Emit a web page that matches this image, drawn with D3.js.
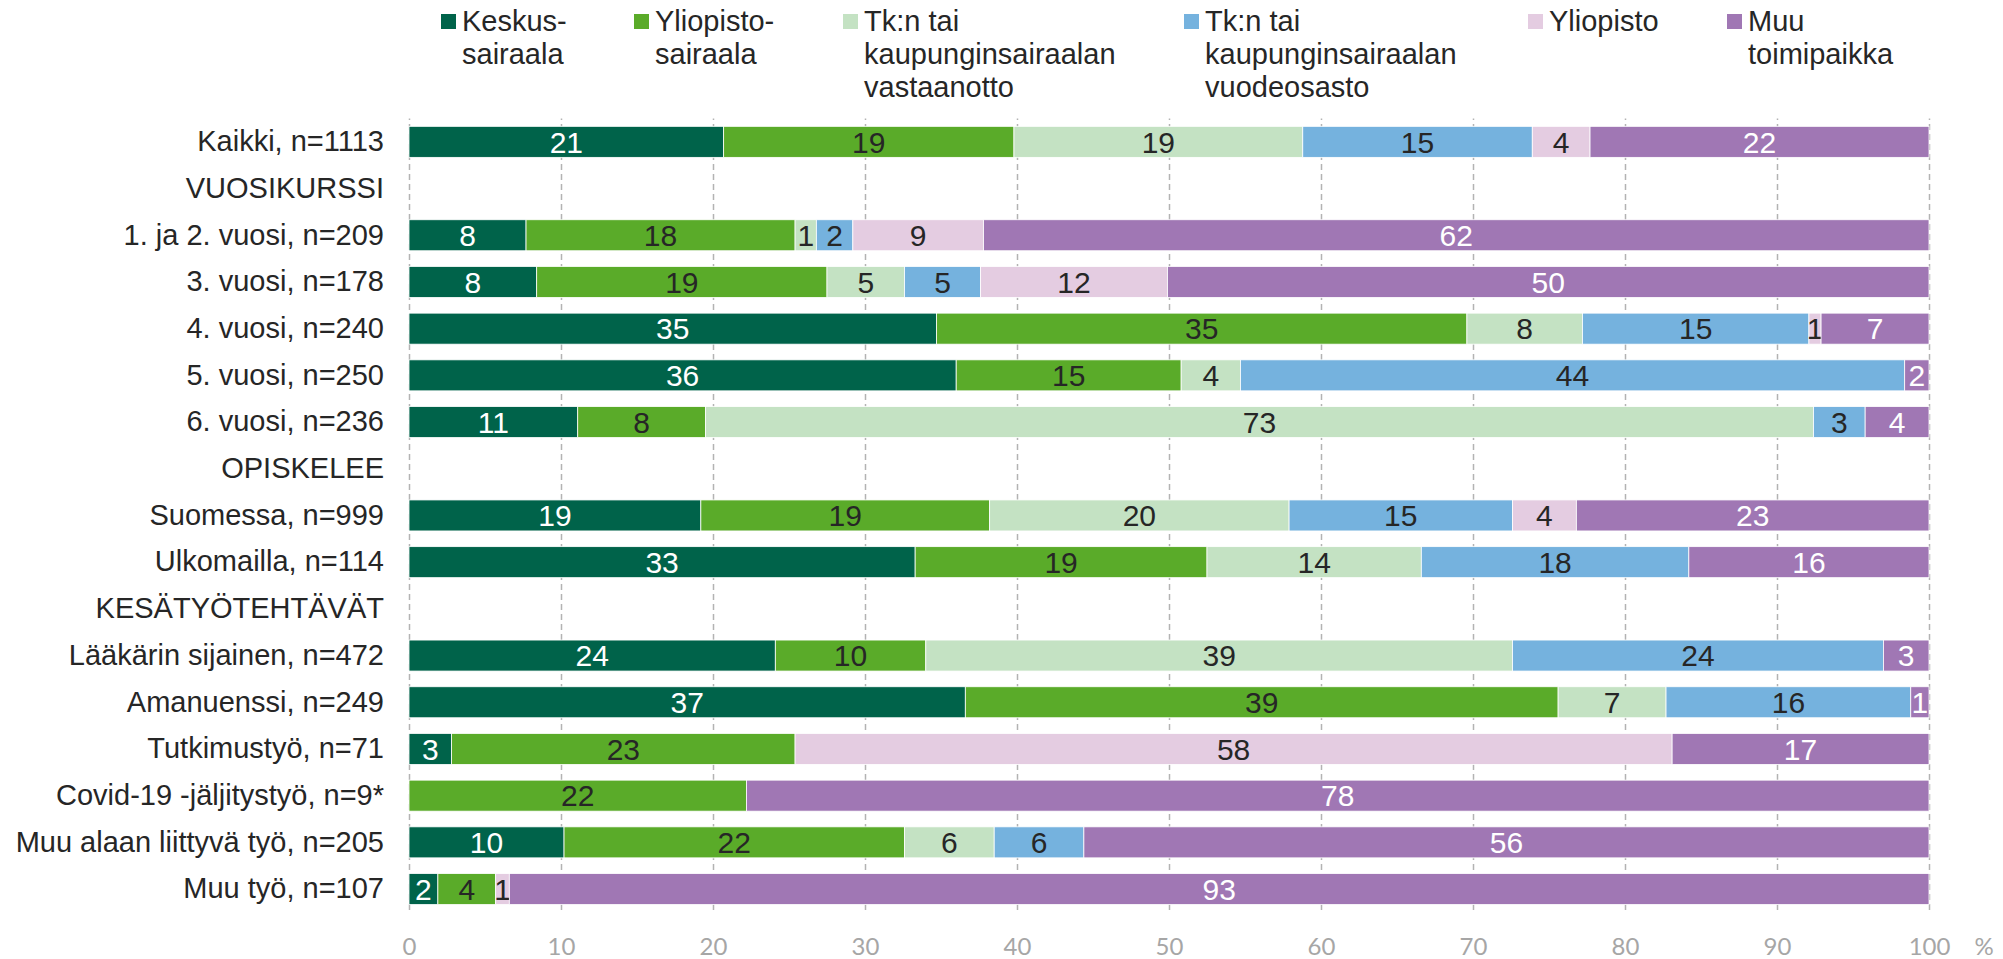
<!DOCTYPE html>
<html>
<head>
<meta charset="utf-8">
<script src="https://cdn.jsdelivr.net/npm/d3@7/dist/d3.min.js"></script>
<style>
body{margin:0;background:#fff;}
svg{display:block;font-family:"Liberation Sans",Arial,sans-serif;}
</style>
</head>
<body>
<svg id="chart" width="2003" height="959"></svg>
<script>
// rows of the chart, header rows have no values
var categories = ["Kaikki, n=1113","VUOSIKURSSI","1. ja 2. vuosi, n=209","3. vuosi, n=178","4. vuosi, n=240",
	"5. vuosi, n=250","6. vuosi, n=236","OPISKELEE","Suomessa, n=999","Ulkomailla, n=114","KESÄTYÖTEHTÄVÄT",
	"Lääkärin sijainen, n=472","Amanuenssi, n=249","Tutkimustyö, n=71","Covid-19 -jäljitystyö, n=9*",
	"Muu alaan liittyvä työ, n=205","Muu työ, n=107"];

var keskussairaala  = [20.7, null, 7.7,  8.4, 34.7, 36.0, 11.1, null, 19.2, 33.3, null, 24.1, 36.6,  2.8,  0.0, 10.2,  1.9];
var yliopistoSair   = [19.1, null, 17.7, 19.1, 34.9, 14.8,  8.4, null, 19.0, 19.2, null,  9.9, 39.0, 22.6, 22.2, 22.4,  3.8];
var tkVastaanotto   = [19.0, null,  1.4,  5.1,  7.6,  3.9, 72.9, null, 19.7, 14.1, null, 38.6,  7.1,  0.0,  0.0,  5.9,  0.0];
var tkVuodeosasto   = [15.1, null,  2.4,  5.0, 14.9, 43.7,  3.4, null, 14.7, 17.6, null, 24.4, 16.1,  0.0,  0.0,  5.9,  0.0];
var yliopisto       = [ 3.8, null,  8.6, 12.3,  0.8,  0.0,  0.0, null,  4.2,  0.0, null,  0.0,  0.0, 57.7,  0.0,  0.0,  0.9];
var muuToimipaikka  = [22.3, null, 62.2, 50.1,  7.1,  1.6,  4.2, null, 23.2, 15.8, null,  3.0,  1.2, 16.9, 77.8, 55.6, 93.4];

var seriesKeys = ["keskus","ylsair","tkvast","tkvuode","yliop","muu"];
var seriesLabels = [
	["Keskus-","sairaala"],
	["Yliopisto-","sairaala"],
	["Tk:n tai","kaupunginsairaalan","vastaanotto"],
	["Tk:n tai","kaupunginsairaalan","vuodeosasto"],
	["Yliopisto"],
	["Muu","toimipaikka"]
];
var seriesColors = ["#00634a","#5aab29","#c4e2c3","#75b2de","#e4cce1","#a077b4"];
var labelColors  = ["#ffffff","#262626","#262626","#262626","#262626","#ffffff"];

var xTicks = [0,10,20,30,40,50,60,70,80,90,100];
var unitLabel = "%";

var legendX = [441, 634, 843, 1184, 1528, 1727];

var svg = d3.select("#chart");

var rows = categories.map(function(c, i){
	return {
		cat: c,
		keskus: keskussairaala[i] || 0,
		ylsair: yliopistoSair[i] || 0,
		tkvast: tkVastaanotto[i] || 0,
		tkvuode: tkVuodeosasto[i] || 0,
		yliop: yliopisto[i] || 0,
		muu: muuToimipaikka[i] || 0
	};
});

var x = d3.scaleLinear()
	.domain([0, 100])
	.range([409, 1929]);

var y = d3.scaleBand()
	.domain(categories)
	.range([118.5, 912.4])
	.paddingInner(0.336)
	.paddingOuter(0.168);

var gridTop = 118.5, gridBottom = 910;

// dashed vertical grid
var gGrid = svg.append("g")
	.attr("class", "grid")
	.attr("transform", "translate(0," + gridBottom + ")")
	.call(d3.axisBottom(x).tickValues(xTicks).tickSize(-(gridBottom - gridTop)).tickFormat(""));
gGrid.select(".domain").remove();
gGrid.selectAll("line")
	.attr("stroke", "#b3b3b3")
	.attr("stroke-width", 1.5)
	.attr("stroke-dasharray", "6,4");

var stacked = d3.stack().keys(seriesKeys)(rows);

var layers = svg.append("g")
	.selectAll("g")
	.data(stacked)
	.join("g")
	.attr("fill", function(d, i){ return seriesColors[i]; });

layers.selectAll("rect")
	.data(function(d){ return d.filter(function(p){ return p[1] - p[0] > 0; }); })
	.join("rect")
	.attr("x", function(d){ return x(d[0]); })
	.attr("y", function(d){ return y(d.data.cat); })
	.attr("width", function(d){ return x(d[1]) - x(d[0]); })
	.attr("height", y.bandwidth())
	.attr("stroke", "#ffffff")
	.attr("stroke-width", 0.8);

var fmt = d3.format(".0f");

layers.each(function(layer, i){
	d3.select(this).selectAll("text")
		.data(layer.filter(function(p){ return p[1] - p[0] > 0; }))
		.join("text")
		.attr("x", function(d){ return x((d[0] + d[1]) / 2); })
		.attr("y", function(d){ return y(d.data.cat) + y.bandwidth() / 2; })
		.attr("dy", "0.36em")
		.attr("text-anchor", "middle")
		.attr("font-size", 30)
		.attr("fill", labelColors[i])
		.text(function(d){ return fmt(d[1] - d[0]); });
});

// category labels
var gY = svg.append("g")
	.attr("transform", "translate(409,0)")
	.call(d3.axisLeft(y).tickSize(0).tickPadding(25));
gY.select(".domain").remove();
gY.selectAll("text")
	.attr("font-family", "'Liberation Sans',Arial,sans-serif")
	.attr("font-size", 29)
	.attr("fill", "#262626");

// x axis labels
var gX = svg.append("g")
	.attr("transform", "translate(0,912)")
	.call(d3.axisBottom(x).tickValues(xTicks).tickSize(0).tickPadding(26));
gX.select(".domain").remove();
gX.selectAll("text")
	.attr("font-family", "Lato,'Open Sans',sans-serif")
	.attr("font-size", 24)
	.attr("fill", "#a6a6a6");

svg.append("text")
	.attr("x", 1984)
	.attr("y", 946.5)
	.attr("dy", "0.36em")
	.attr("text-anchor", "middle")
	.attr("font-family", "Lato,'Open Sans',sans-serif")
	.attr("font-size", 24)
	.attr("fill", "#a6a6a6")
	.text(unitLabel);

// legend
var legend = svg.append("g")
	.selectAll("g")
	.data(seriesLabels)
	.join("g")
	.attr("transform", function(d, i){ return "translate(" + legendX[i] + ",0)"; });

legend.append("rect")
	.attr("x", 0)
	.attr("y", 14)
	.attr("width", 15)
	.attr("height", 15)
	.attr("fill", function(d, i){ return seriesColors[i]; });

legend.append("text")
	.attr("font-size", 29)
	.attr("fill", "#262626")
	.selectAll("tspan")
	.data(function(d){ return d; })
	.join("tspan")
	.attr("x", 21)
	.attr("y", function(d, j){ return 31 + j * 33.2; })
	.text(function(d){ return d; });
</script>
</body>
</html>
